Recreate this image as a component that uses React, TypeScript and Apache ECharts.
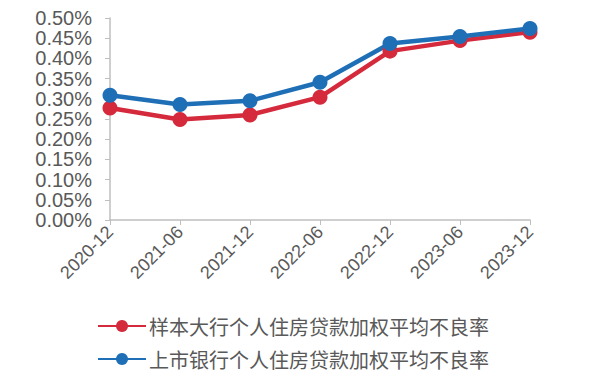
import React, { useEffect, useRef } from "react";
import * as echarts from "echarts";

const categories = ["2020-12", "2021-06", "2021-12", "2022-06", "2022-12", "2023-06", "2023-12"];
const sampleBigBanks = [0.277, 0.249, 0.26, 0.304, 0.418, 0.444, 0.465];
const listedBanks = [0.309, 0.286, 0.295, 0.341, 0.437, 0.454, 0.474];
const seriesNames = ["样本大行个人住房贷款加权平均不良率", "上市银行个人住房贷款加权平均不良率"];

export default function App() {
  const ref = useRef<HTMLDivElement>(null);
  useEffect(() => {
    const chart = echarts.init(ref.current!, null, { renderer: "svg" });
    const font = "Liberation Sans, Arial, Noto Sans CJK SC, sans-serif";
    chart.setOption({
      animation: false,
      backgroundColor: "#ffffff",
      grid: { left: 110, right: 70, top: 18, bottom: 158, containLabel: false },
      legend: {
        orient: "vertical",
        left: 92,
        top: 311,
        itemWidth: 48,
        itemHeight: 15,
        itemGap: 13,
        textStyle: {
          color: "#595959",
          fontSize: 20,
          fontFamily: "Noto Sans CJK SC, sans-serif",
          padding: [0, 0, 0, -2],
        },
        data: seriesNames,
      },
      xAxis: {
        type: "category",
        boundaryGap: false,
        data: categories,
        axisLine: { lineStyle: { color: "#bfbfbf", width: 1.5 } },
        axisTick: { show: true, alignWithLabel: true, length: 5, lineStyle: { color: "#bfbfbf" } },
        axisLabel: { rotate: 45, color: "#595959", fontSize: 18, fontFamily: font, margin: 9 },
        splitLine: { show: false },
      },
      yAxis: {
        type: "value",
        min: 0,
        max: 0.5,
        interval: 0.05,
        axisLine: { show: true, lineStyle: { color: "#bfbfbf", width: 1.5 } },
        axisTick: { show: true, length: 5, lineStyle: { color: "#bfbfbf" } },
        axisLabel: {
          color: "#595959",
          fontSize: 20,
          fontFamily: font,
          margin: 18,
          formatter: (v: number) => v.toFixed(2) + "%",
        },
        splitLine: { show: false },
      },
      series: [
        {
          name: seriesNames[0],
          type: "line",
          data: sampleBigBanks,
          symbol: "circle",
          symbolSize: 15,
          color: "#D42A3C",
          lineStyle: { width: 4.5, color: "#D42A3C" },
          itemStyle: { color: "#D42A3C" },
        },
        {
          name: seriesNames[1],
          type: "line",
          data: listedBanks,
          symbol: "circle",
          symbolSize: 15,
          color: "#1F6FB7",
          lineStyle: { width: 4.5, color: "#1F6FB7" },
          itemStyle: { color: "#1F6FB7" },
        },
      ],
    });
    return () => chart.dispose();
  }, []);
  return <div ref={ref} style={{ width: 600, height: 378, position: "absolute", left: 0, top: 0 }} />;
}
